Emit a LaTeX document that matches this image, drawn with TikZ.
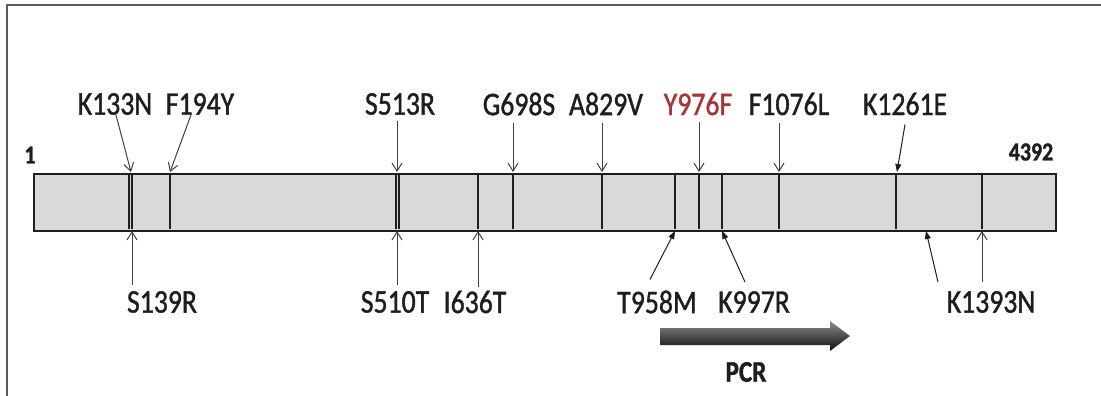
\documentclass[tikz,border=0pt]{standalone}
\usepackage{fontspec}
\setmainfont{Carlito}[FakeStretch=0.84,FakeBold=1.2]
\usetikzlibrary{arrows.meta,calc}
\definecolor{barfill}{HTML}{D9D9D9}
\definecolor{ink}{HTML}{1E1E1E}
\definecolor{redlab}{HTML}{A83535}
\definecolor{framec}{HTML}{5A5A5A}
\begin{document}
\begin{tikzpicture}[x=1pt,y=-1pt,
  lab/.style={inner sep=0pt, font=\fontsize{33}{33}\selectfont, text=ink},
  endlab/.style={inner sep=0pt, font=\fontsize{26}{26}\selectfont\bfseries, text=ink},
  ptr/.style={draw=ink!85, line width=1pt, -{Straight Barb[length=8pt,width=10pt]}},
  ptrf/.style={draw=ink, line width=1pt, -{Triangle[length=8pt,width=6pt]}},
  tickline/.style={draw=ink, line width=1.7pt},
]
\useasboundingbox (0,0) rectangle (1101,396);
% frame
\draw[line width=1.5pt, draw=framec] (1101,5) -- (7,5) -- (7,396);
% bar
\node[draw=ink, fill=barfill, line width=2.2pt, minimum width=1022pt, minimum height=57pt,
      inner sep=0pt, anchor=north west] (bar) at (33,173) {};
\foreach \x in {129,132,170,396,399,478,513,602,675,699,722,779,896,982}
  \draw[tickline] (\x,174) -- (\x,229);
% end labels
\node[endlab] (one) at (30,155) {1};
\node[endlab] (last) at (1031,152) {4392};
% top labels
\node[lab] (k133n) at (115,104) {K133N};
\node[lab] (f194y) at (200,104) {F194Y};
\node[lab] (s513r) at (400,104) {S513R};
\node[lab] (g698s) at (519,104) {G698S};
\node[lab] (a829v) at (606,104) {A829V};
\node[lab,text=redlab] (y976f) at (698,104) {Y976F};
\node[lab] (f1076l) at (789,104) {F1076L};
\node[lab] (k1261e) at (905,104) {K1261E};
% bottom labels
\node[lab] (s139r) at (162,302) {S139R};
\node[lab] (s510t) at (395,302) {S510T};
\node[lab] (i636t) at (475,302) {I636T};
\node[lab] (t958m) at (657,302) {T958M};
\node[lab] (k997r) at (754,302) {K997R};
\node[lab] (k1393n) at (991,302) {K1393N};
% arrow targets on the bar
\coordinate (e133) at (131,172);
\coordinate (e194) at (170,172);
\coordinate (e513) at (397,172);
\coordinate (e698) at (513,172);
\coordinate (e829) at (602,172);
\coordinate (e976) at (699,172);
\coordinate (e1076) at (779,172);
\coordinate (e1261) at (897,172);
\coordinate (e139) at (132,231);
\coordinate (e510) at (397,231);
\coordinate (e636) at (478,231);
\coordinate (e958) at (675,231);
\coordinate (e997) at (722,231);
\coordinate (e1393a) at (926,231);
\coordinate (e1393b) at (982,231);
% top arrows
\draw[ptr] ($(k133n.south)+(1,0)$) -- (e133);
\draw[ptr] ($(f194y.south)+(-9,0)$) -- (e194);
\draw[ptr] ($(s513r.south -| e513)+(0,6)$) -- (e513);
\draw[ptr] ($(g698s.south -| e698)+(0,7)$) -- (e698);
\draw[ptr] ($(a829v.south -| e829)+(0,7)$) -- (e829);
\draw[ptr] ($(y976f.south -| e976)+(0,7)$) -- (e976);
\draw[ptr] ($(f1076l.south -| e1076)+(0,8)$) -- (e1076);
\draw[ptrf] ($(k1261e.south)+(0,9)$) -- (e1261);
% bottom arrows
\draw[ptr] ($(s139r.north -| e139)+(0,-6)$) -- (e139);
\draw[ptr] ($(s510t.north -| e510)+(0,-6)$) -- (e510);
\draw[ptr] ($(i636t.north -| e636)+(0,-4)$) -- (e636);
\draw[ptrf] ($(t958m.north)+(-7,-11)$) -- (e958);
\draw[ptrf] ($(k997r.north)+(-9,-9)$) -- (e997);
\draw[ptrf] ($(k1393n.north)+(-53,-9)$) -- (e1393a);
\draw[ptr] ($(k1393n.north -| e1393b)+(0,-9)$) -- (e1393b);
% PCR arrow
\shade[top color=black!45, middle color=black!60, bottom color=black!95]
  (660,328) -- (830,328) -- (830,321) -- (850,336) -- (830,351) -- (830,345) -- (660,345) -- cycle;
\node[inner sep=0pt, font=\fontsize{30}{30}\selectfont\bfseries, text=ink] (pcr) at (746,372) {PCR};
\end{tikzpicture}
\end{document}
